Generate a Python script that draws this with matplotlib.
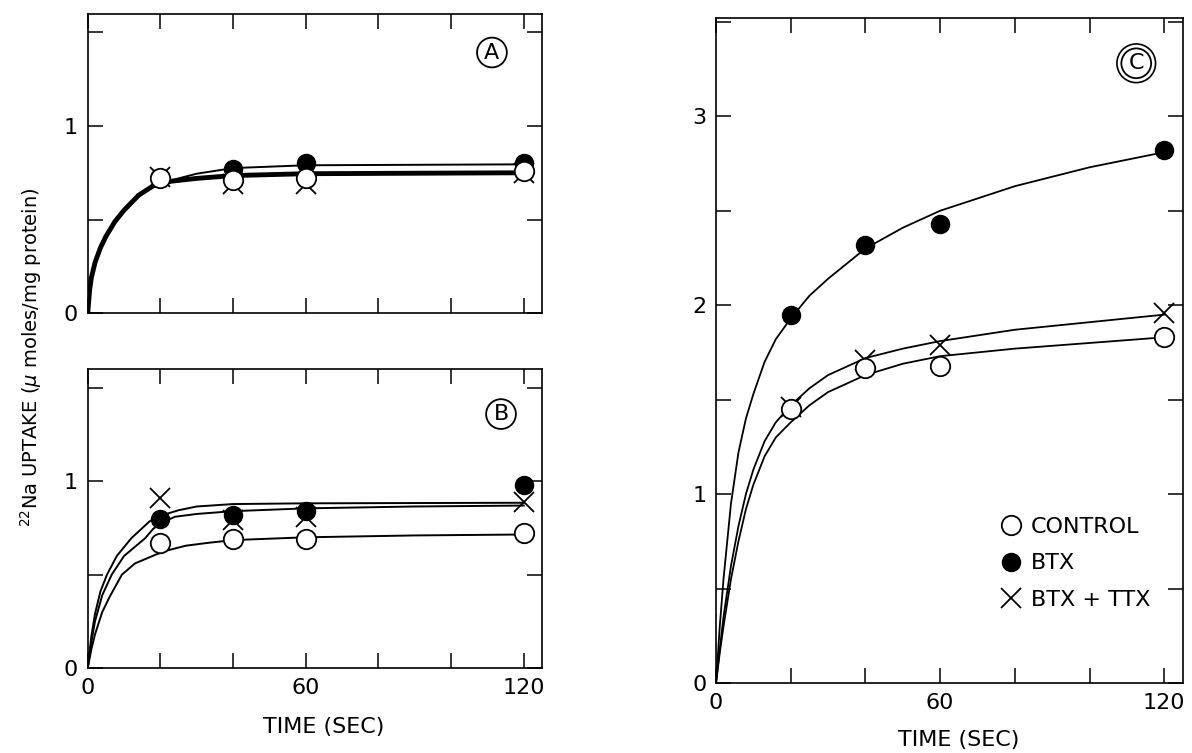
import numpy as np
import matplotlib
matplotlib.use('Agg')
import matplotlib.pyplot as plt

# ---- data ----
t = [20, 40, 60, 120]

# panel A
a_control = [0.72, 0.71, 0.72, 0.76]
a_btx = [0.72, 0.77, 0.80, 0.80]
a_ttx = [0.73, 0.69, 0.69, 0.75]
# fitted curves
a_ct = [0, 0.5, 1, 2, 3.5, 5, 7.5, 10, 14, 18, 23, 30, 40, 60, 120]
a_cv = [0, 0.12, 0.19, 0.27, 0.35, 0.41, 0.49, 0.55, 0.63, 0.68, 0.705, 0.72, 0.735, 0.745, 0.75]
a_bt = [0, 0.5, 1, 2, 3.5, 5, 7.5, 10, 14, 18, 25, 30, 40, 60, 120]
a_bv = [0, 0.12, 0.19, 0.27, 0.35, 0.41, 0.49, 0.55, 0.63, 0.68, 0.72, 0.745, 0.775, 0.79, 0.795]

# panel B
b_control = [0.667, 0.69, 0.69, 0.725]
b_btx = [0.80, 0.82, 0.84, 0.98]
b_ttx = [0.91, 0.79, 0.81, 0.89]
b_ct = [0, 1, 2, 4, 6, 9.4, 13, 18.7, 22, 27, 33, 40, 60, 90, 120]
b_cv = [0, 0.1, 0.18, 0.3, 0.38, 0.5, 0.56, 0.607, 0.63, 0.655, 0.67, 0.685, 0.70, 0.71, 0.715]
b_bt = [0, 1, 2, 3.5, 5.3, 8, 12, 17, 20, 25, 30, 40, 60, 120]
b_bv = [0, 0.17, 0.29, 0.41, 0.5, 0.6, 0.695, 0.785, 0.815, 0.845, 0.865, 0.878, 0.882, 0.885]
b_xt = [0, 1, 2, 4, 6.6, 10, 15.8, 18, 20, 24, 30, 40, 60, 90, 120]
b_xv = [0, 0.14, 0.25, 0.39, 0.5, 0.6, 0.695, 0.745, 0.775, 0.81, 0.825, 0.84, 0.855, 0.865, 0.87]

# panel C
c_control = [1.45, 1.67, 1.68, 1.83]
c_btx = [1.95, 2.32, 2.43, 2.82]
c_ttx = [1.46, 1.71, 1.79, 1.96]
c_t = [0, 1, 2, 4, 6, 8, 10, 13, 16, 20, 25, 30, 40, 50, 60, 80, 100, 120]
c_cv = [0, 0.16, 0.3, 0.55, 0.75, 0.92, 1.05, 1.2, 1.3, 1.38, 1.47, 1.54, 1.63, 1.69, 1.73, 1.77, 1.80, 1.83]
c_bv = [0, 0.3, 0.55, 0.95, 1.22, 1.4, 1.53, 1.7, 1.82, 1.93, 2.05, 2.14, 2.3, 2.41, 2.5, 2.63, 2.73, 2.81]
c_xv = [0, 0.18, 0.35, 0.62, 0.83, 1.0, 1.13, 1.28, 1.38, 1.47, 1.56, 1.63, 1.72, 1.77, 1.81, 1.87, 1.91, 1.95]

xticks = [0, 20, 40, 60, 80, 100, 120]
xlabels = ['0', '', '', '60', '', '', '120']

plt.rcParams['font.family'] = 'DejaVu Sans'

fig = plt.figure(figsize=(11.92, 7.53), dpi=100)
axA = fig.add_axes([0.0736, 0.584, 0.381, 0.398])
axB = fig.add_axes([0.0736, 0.1129, 0.381, 0.3967])
axC = fig.add_axes([0.6007, 0.093, 0.3917, 0.883])


def style(ax, ymax, ylabs, show_x):
    ax.set_xlim(0, 125)
    ax.set_ylim(0, ymax)
    ax.set_xticks(xticks)
    ax.set_xticklabels(xlabels if show_x else [''] * 7)
    yt = list(np.arange(0, ymax, 0.5))
    ax.set_yticks(yt)
    ax.set_yticklabels([ylabs.get(v, '') for v in yt])
    ax.tick_params(direction='in', length=11, width=1.1, top=True, right=True,
                   labelsize=16, pad=7)
    for s in ax.spines.values():
        s.set_linewidth(1.2)


def markers(ax, ctrl, btx, ttx, lab=False):
    ax.plot(t, ttx, 'x', color='black', ms=15, mew=1.3, zorder=3,
            label='BTX + TTX' if lab else None)
    ax.plot(t, btx, 'o', color='black', ms=13, zorder=4,
            label='BTX' if lab else None)
    ax.plot(t, ctrl, 'o', mfc='white', mec='black', ms=14, mew=1.3, zorder=5,
            label='CONTROL' if lab else None)


def circled(ax, x, y, s, double=False):
    if double:
        ax.text(x, y, s, transform=ax.transAxes, fontsize=16, ha='center', va='center',
                color='none',
                bbox=dict(boxstyle='circle,pad=0.42', fc='white', ec='black', lw=1.2))
    ax.text(x, y, s, transform=ax.transAxes, fontsize=16, ha='center', va='center',
            bbox=dict(boxstyle='circle,pad=0.22', fc='white', ec='black', lw=1.3))


# A
axA.plot(a_ct, a_cv, color='black', lw=3.5)
axA.plot(a_bt, a_bv, color='black', lw=1.4)
markers(axA, a_control, a_btx, a_ttx)
style(axA, 1.6, {0.0: '0', 1.0: '1'}, False)
circled(axA, 0.89, 0.87, 'A')

# B
axB.plot(b_ct, b_cv, color='black', lw=1.4)
axB.plot(b_bt, b_bv, color='black', lw=1.4)
axB.plot(b_xt, b_xv, color='black', lw=1.4)
markers(axB, b_control, b_btx, b_ttx)
style(axB, 1.6, {0.0: '0', 1.0: '1'}, True)
circled(axB, 0.91, 0.85, 'B')
axB.set_xlabel('TIME (SEC)', fontsize=16)
axB.xaxis.set_label_coords(0.52, -0.165)

# C
axC.plot(c_t, c_cv, color='black', lw=1.3)
axC.plot(c_t, c_bv, color='black', lw=1.3)
axC.plot(c_t, c_xv, color='black', lw=1.3)
markers(axC, c_control, c_btx, c_ttx, lab=True)
style(axC, 3.52, {0.0: '0', 1.0: '1', 2.0: '2', 3.0: '3'}, True)
circled(axC, 0.90, 0.932, 'C', double=True)
axC.set_xlabel('TIME (SEC)', fontsize=16)
axC.xaxis.set_label_coords(0.52, -0.07)
h, l = axC.get_legend_handles_labels()
axC.legend(h[::-1], l[::-1], loc='center left', bbox_to_anchor=(0.565, 0.18),
           frameon=False, fontsize=16, handlelength=1.0, handletextpad=0.4,
           labelspacing=0.75)

fig.text(0.026, 0.525, r'$^{22}$Na UPTAKE ($\mu$ moles/mg protein)', rotation=90,
         fontsize=14, ha='center', va='center')

fig.savefig('out.png', dpi=100)
